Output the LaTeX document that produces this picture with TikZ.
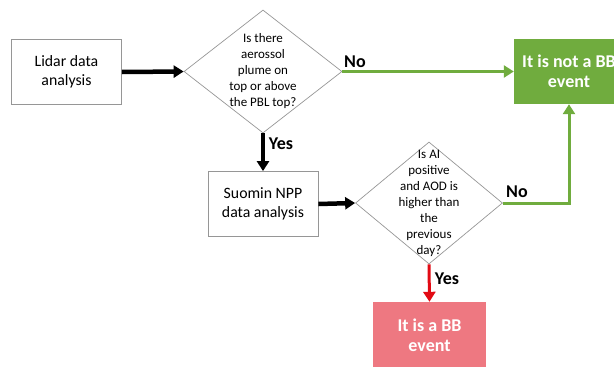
\documentclass[tikz,border=0pt]{standalone}
\usepackage{fontspec}
\setmainfont{Carlito}
\usetikzlibrary{shapes.geometric,arrows.meta}
\definecolor{bbgreen}{RGB}{112,172,62}
\definecolor{bbpink}{RGB}{238,120,129}
\definecolor{bbred}{RGB}{226,10,20}
\definecolor{edge}{RGB}{150,150,150}
\tikzset{
	stepbox/.style={draw=edge, line width=0.8pt, minimum width=110pt, minimum height=65pt,
		align=center, font=\fontsize{15.8}{19}\selectfont},
	decision/.style={diamond, draw=edge, line width=0.7pt, inner sep=0pt},
	qtext/.style={align=center, font=\fontsize{13}{16}\selectfont},
	endbox/.style={fill=#1, minimum width=110pt, minimum height=65pt, align=center,
		text=white, font=\fontsize{18}{20}\selectfont\bfseries},
	answer/.style={font=\fontsize{18}{20}\selectfont\bfseries},
	flow/.style={line width=#1, -{Triangle[length=10pt,width=12pt]}},
}
\begin{document}
\begin{tikzpicture}[x=1pt, y=-1pt, line join=miter]
	\useasboundingbox (0,0) rectangle (614,367);

	% boxes
	\node[stepbox] (lidar) at (66.5,72) {Lidar data\\analysis};
	\node[stepbox] (suomi) at (263,204) {Suomin NPP\\data analysis};

	% first question
	\node[decision, minimum width=158pt, minimum height=123pt] (q1) at (263,71.5) {};
	\node[qtext] (q1txt) at (q1) {Is there\\aerossol\\plume on\\top or above\\the PBL top?};

	% second question
	\node[decision, minimum width=147pt, minimum height=122pt] (q2) at (429,203) {};
	\node[qtext] (q2txt) at (q2) {Is AI\\positive\\and AOD is\\higher than\\the\\previous\\day?};

	% outcomes
	\node[endbox=bbgreen] (notbb) at (569,71.5) {It is not a BB\\event};
	\node[endbox=bbpink, minimum width=113pt, minimum height=66pt] (isbb) at (429.5,335) {It is a BB\\event};

	% connectors
	\draw[flow=4.5pt] (lidar.east) -- (q1.west);
	\draw[flow=4.5pt] (q1.south) -- (suomi.north);
	\draw[flow=4.5pt] (suomi.east) -- (q2.west);
	\draw[flow=3pt, bbgreen] (q1.east) -- (notbb.west);
	\draw[flow=3pt, bbgreen] (q2.east) -| (notbb.south);
	\draw[flow=3pt, bbred] (q2.south) -- (isbb.north);

	% answers
	\node[answer] (no1) at (355,62) {No};
	\node[answer] (yes1) at (281,144) {Yes};
	\node[answer] (no2) at (517,192) {No};
	\node[answer] (yes2) at (447,279) {Yes};
\end{tikzpicture}
\end{document}
